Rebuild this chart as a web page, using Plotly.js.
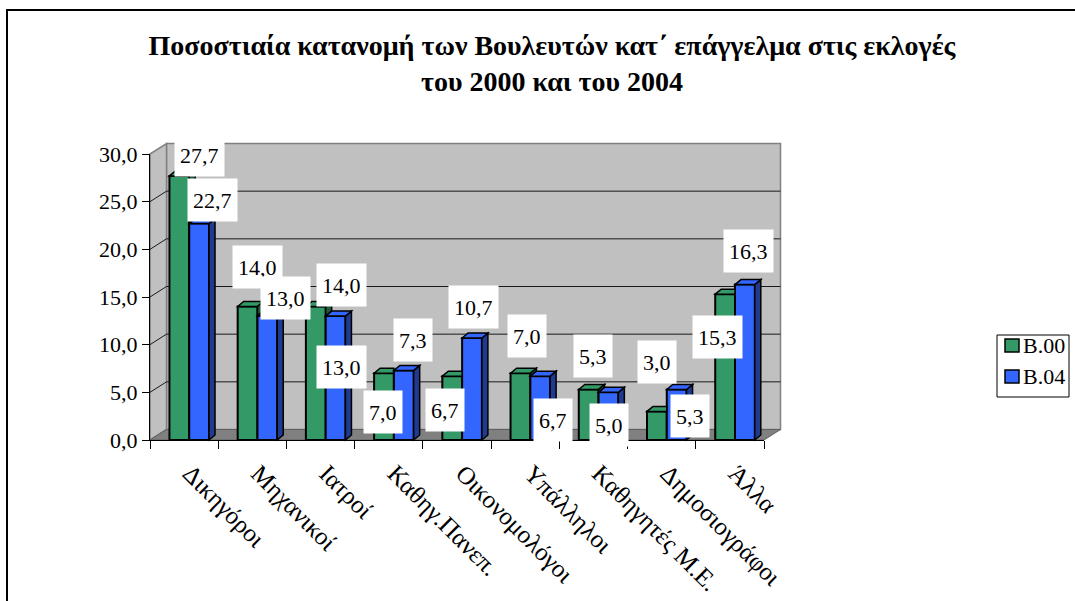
<!DOCTYPE html>
<html><head><meta charset="utf-8">
<script src="https://cdn.plot.ly/plotly-3.0.1.min.js"></script>
<style>
html,body{margin:0;padding:0;background:#fff;overflow:hidden;}
#frame{position:absolute;left:6px;top:9px;width:1200px;height:800px;border:2px solid #000;}
#chart{position:absolute;left:0;top:0;width:1075px;height:601px;}
</style></head><body>
<div id="frame"></div>
<div id="chart"></div>
<script>
// ---- data ----
const categories = ['Δικηγόροι','Μηχανικοί','Ιατροί','Καθηγ.Πανεπ.','Οικονομολόγοι','Υπάλληλοι','Καθηγητές Μ.Ε.','Δημοσιογράφοι','Άλλα'];
const seriesNames = ['B.00','B.04'];
const values2000 = [27.7, 14.0, 14.0, 7.0, 6.7, 7.0, 5.3, 3.0, 15.3];
const values2004 = [22.7, 13.0, 13.0, 7.3, 10.7, 6.7, 5.0, 5.3, 16.3];
const yTickValues = [0, 5, 10, 15, 20, 25, 30];
const titleText = 'Ποσοστιαία κατανομή των Βουλευτών κατ΄ επάγγελμα στις εκλογές<br>του 2000 και του 2004';

// ---- layout / style (pixels) ----
const W = 1075, H = 601;
const PL = 150, PR = 764, PT = 154, PB = 440;
const PW = PR - PL, PH = PB - PT;
const YMAX = 30;
const N = categories.length;
const FONT = '"Liberation Serif", "Times New Roman", serif';
const wallDX = 16.5 / PW, wallDY = 10.5 / PH;   // depth of walls in paper units
const barDX = 6 / PW, barDY = 5 / PH;           // depth of bars in paper units
const barW = 0.29, offG = -0.215, offB = 0.075; // in category units
const green = '#339966', greenSide = '#1d5a3b';
const blue = '#3366ff', blueSide = '#1f3a8f';
const colors = [green, blue];

// label offsets (px) relative to category centre / bar top
const labelDX00 = [15, 5, 21, -6, -12, 2, 0, -5, -12];
const labelDY00 = [21, 40, 22, -39, -34, 37, 33, 49, -43];
const labelDX04 = [28, 33, 21, 24, 16, 28, 16, 28, 19];
const labelDY04 = [24, 18, -51, 30, 31, -44, -33, -27, 34];

const px2x = px => (px - PL) / PW;
const px2y = py => (PB - py) / PH;

function fmt(v){ return v.toFixed(1).replace('.', ','); }
function path(pts){ return 'M' + pts.map(p => p[0] + ',' + p[1]).join(' L') + ' Z'; }
function poly(pts, fill, lineColor, lw, layer){
  return {type:'path', xref:'paper', yref:'paper', path:path(pts), fillcolor:fill,
          line:{color:lineColor, width:lw}, layer:layer};
}
function seg(x0,y0,x1,y1,color,lw,layer){
  return {type:'line', xref:'paper', yref:'paper', x0:x0, y0:y0, x1:x1, y1:y1,
          line:{color:color, width:lw}, layer:layer};
}
const cx = (i, off) => (i + 0.5 + off) / N;
const cy = v => v / YMAX;

const shapes = [];
shapes.push(poly([[wallDX,wallDY],[1+wallDX,wallDY],[1+wallDX,1+wallDY],[wallDX,1+wallDY]], '#c0c0c0', '#808080', 1.5, 'below'));
shapes.push(poly([[0,0],[wallDX,wallDY],[wallDX,1+wallDY],[0,1]], '#c0c0c0', '#808080', 1.5, 'below'));
yTickValues.forEach(v => {
  if (v === 0 || v === YMAX) return;
  shapes.push(seg(wallDX, cy(v)+wallDY, 1+wallDX, cy(v)+wallDY, '#1a1a1a', 1, 'below'));
  shapes.push(seg(0, cy(v), wallDX, cy(v)+wallDY, '#1a1a1a', 1, 'below'));
});
shapes.push(poly([[0,0],[1,0],[1+wallDX,wallDY],[wallDX,wallDY]], '#808080', '#606060', 1, 'below'));

for (let i = 0; i < N; i++) {
  const g = values2000[i], b = values2004[i];
  const gL = cx(i, offG), gR = cx(i, offG + barW);
  const bL = cx(i, offB), bR = cx(i, offB + barW);
  if (b > g) {
    shapes.push(poly([[gL,cy(g)],[gL+barDX,cy(g)+barDY],[gR,cy(g)+barDY],[gR,cy(g)]], green, '#000', 1.5, 'above'));
  } else {
    shapes.push(poly([[gL,cy(g)],[gL+barDX,cy(g)+barDY],[gR+barDX,cy(g)+barDY],[gR,cy(g)]], green, '#000', 1.5, 'above'));
    shapes.push(poly([[gR,cy(b)],[gR+barDX,cy(b)+barDY],[gR+barDX,cy(g)+barDY],[gR,cy(g)]], greenSide, '#000', 1.5, 'above'));
  }
  shapes.push(poly([[bR,0],[bR+barDX,barDY],[bR+barDX,cy(b)+barDY],[bR,cy(b)]], blueSide, '#000', 1.5, 'above'));
  shapes.push(poly([[bL,cy(b)],[bL+barDX,cy(b)+barDY],[bR+barDX,cy(b)+barDY],[bR,cy(b)]], blue, '#000', 1.5, 'above'));
}

const annotations = [];
function addLabels(vals, dx, dy){
  vals.forEach((v, i) => {
    annotations.push({xref:'x', yref:'y', x:categories[i], y:v, xshift:dx[i], yshift:dy[i],
      text:fmt(v), showarrow:false, bgcolor:'#ffffff', borderpad:5, height:32,
      font:{family:FONT, size:22, color:'#000'}, xanchor:'center', yanchor:'middle'});
  });
}
addLabels(values2000, labelDX00, labelDY00);
addLabels(values2004, labelDX04, labelDY04);

// custom legend (box, swatches, names)
shapes.push({type:'rect', xref:'paper', yref:'paper', x0:px2x(997), x1:px2x(1069), y0:px2y(335), y1:px2y(397),
             fillcolor:'#fff', line:{color:'#000', width:1}, layer:'above'});
const legendRowY = [345.5, 376.5];
seriesNames.forEach((name, k) => {
  const yc = legendRowY[k];
  shapes.push({type:'rect', xref:'paper', yref:'paper', x0:px2x(1005), x1:px2x(1019), y0:px2y(yc-6.5), y1:px2y(yc+6.5),
               fillcolor:colors[k], line:{color:'#000', width:1.5}, layer:'above'});
  annotations.push({xref:'paper', yref:'paper', x:px2x(1021), y:px2y(yc), xanchor:'left', yanchor:'middle',
                    text:name, showarrow:false, font:{family:FONT, size:22, color:'#000'}});
});

const traces = [
  {type:'bar', name:seriesNames[0], x:categories, y:values2000, offset:offG, width:barW,
   marker:{color:green, line:{color:'#000', width:2}}, hoverinfo:'skip'},
  {type:'bar', name:seriesNames[1], x:categories, y:values2004, offset:offB, width:barW,
   marker:{color:blue, line:{color:'#000', width:2}}, hoverinfo:'skip'}
];

const layout = {
  width:W, height:H,
  margin:{l:PL, r:W-PR, t:PT, b:H-PB, pad:0, autoexpand:false},
  paper_bgcolor:'rgba(0,0,0,0)', plot_bgcolor:'rgba(0,0,0,0)',
  separators:',.',
  barmode:'overlay',
  showlegend:false,
  font:{family:FONT, size:22, color:'#000'},
  title:{text:titleText, font:{family:FONT, size:28, weight:'bold', color:'#000'},
         xref:'paper', x:px2x(552), xanchor:'center', yref:'container', y:1-55/H, yanchor:'top'},
  xaxis:{type:'category', range:[-0.5, N-0.5], showline:true, linecolor:'#000', linewidth:1,
         ticks:'outside', tickson:'boundaries', ticklen:8, tickcolor:'#000', tickwidth:1,
         tickangle:45, showgrid:false, zeroline:false, automargin:false,
         ticklabelstandoff:8, ticklabelshift:6,
         tickfont:{family:FONT, size:25, color:'#000'}},
  yaxis:{range:[0, YMAX], tickvals:yTickValues, tickformat:'.1f', showline:true, linecolor:'#000',
         linewidth:1, ticks:'outside', ticklen:7, tickcolor:'#000', showgrid:false, zeroline:false,
         automargin:false, tickfont:{family:FONT, size:22, color:'#000'}},
  shapes:shapes,
  annotations:annotations
};

Plotly.newPlot('chart', traces, layout, {displayModeBar:false, staticPlot:true});
</script>
</body></html>
